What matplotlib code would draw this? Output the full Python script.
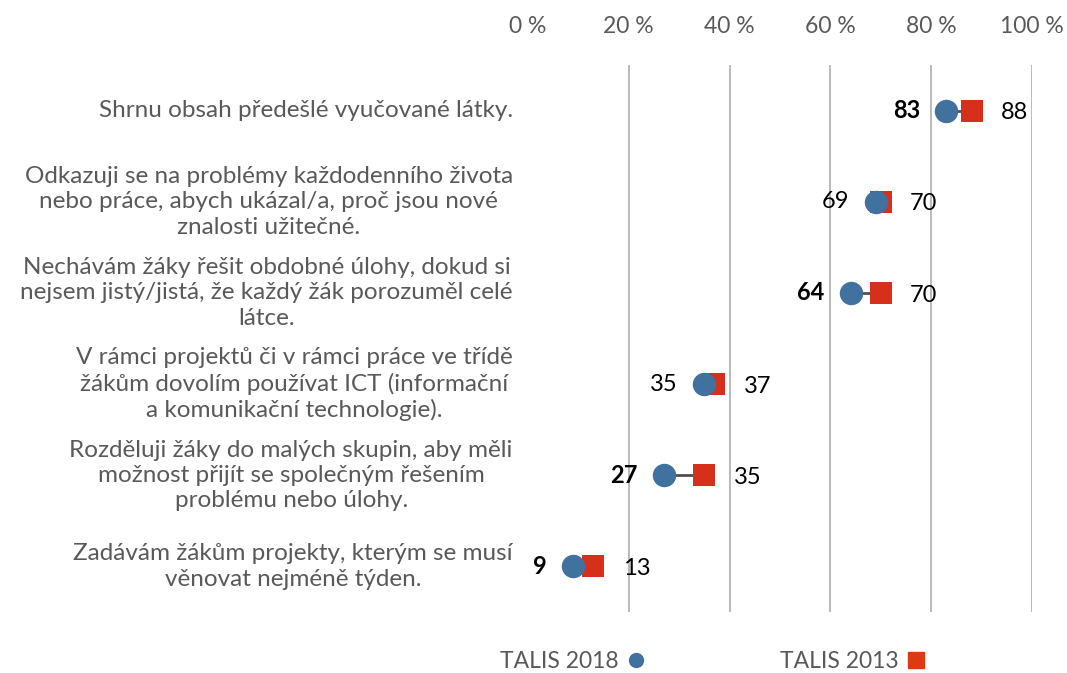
import matplotlib
matplotlib.use("Agg")
import matplotlib.pyplot as plt
from matplotlib.lines import Line2D

# --- data ---
categories = [
    "Shrnu obsah předešlé vyučované látky.",
    "Odkazuji se na problémy každodenního života\nnebo práce, abych ukázal/a, proč jsou nové\nznalosti užitečné.",
    "Nechávám žáky řešit obdobné úlohy, dokud si\nnejsem jistý/jistá, že každý žák porozuměl celé\nlátce.",
    "V rámci projektů či v rámci práce ve třídě\nžákům dovolím používat ICT (informační\na komunikační technologie).",
    "Rozděluji žáky do malých skupin, aby měli\nmožnost přijít se společným řešením\nproblému nebo úlohy.",
    "Zadávám žákům projekty, kterým se musí\nvěnovat nejméně týden.",
]
talis_2018 = [83, 69, 64, 35, 27, 9]
talis_2013 = [88, 70, 70, 37, 35, 13]
# bold label = statistically significant change
significant = [True, False, True, False, True, True]
x_ticks = [0, 20, 40, 60, 80, 100]
x_ticklabels = ["0 %", "20 %", "40 %", "60 %", "80 %", "100 %"]

BLUE = "#41719F"
RED = "#D6301D"
GRAY_TXT = "#595959"
GRID = "#B4B4B4"

plt.rcParams["font.family"] = ["Lato", "DejaVu Sans"]

fig = plt.figure(figsize=(10.67, 6.73), dpi=100)
ax = fig.add_axes([0.4948, 0.0906, 0.9672 - 0.4948, 0.9034 - 0.0906])

ypos = list(range(len(categories)))

for y, a, b in zip(ypos, talis_2018, talis_2013):
    ax.plot([a, b], [y, y], color="#505050", lw=2, zorder=2)
ax.scatter(talis_2013, ypos, marker="s", s=255, color=RED, zorder=3, linewidths=0)
ax.scatter(talis_2018, ypos, marker="o", s=285, color=BLUE, zorder=4, linewidths=0)

for y, a, b, sig in zip(ypos, talis_2018, talis_2013, significant):
    ax.annotate(str(a), (a, y), xytext=(-19, 0), textcoords="offset points",
                ha="right", va="center", fontsize=17,
                fontweight="bold" if sig else "normal", color="black")
    ax.annotate(str(b), (b, y), xytext=(21, -1.5), textcoords="offset points",
                ha="left", va="center", fontsize=17, color="black")

# category labels on the left
for y, cat in zip(ypos, categories):
    ax.text(-0.03, y, cat, transform=ax.get_yaxis_transform(),
            ha="right", va="center", multialignment="center",
            fontsize=17.5, color=GRAY_TXT, linespacing=1.25)

ax.set_xlim(0, 100)
ax.set_ylim(len(categories) - 0.5, -0.5)
ax.set_yticks([])
ax.xaxis.tick_top()
ax.set_xticks(x_ticks)
ax.set_xticklabels(x_ticklabels, fontsize=16.5, color=GRAY_TXT)
ax.tick_params(axis="x", length=0, pad=20)
for t in x_ticks[1:]:
    ax.axvline(t, color=GRID, lw=1.3, zorder=1)
for s in ax.spines.values():
    s.set_visible(False)

handles = [
    Line2D([], [], marker="o", ls="none", color=BLUE, markersize=10, label="TALIS 2018"),
    Line2D([], [], marker="s", ls="none", color="#DD3A12", markersize=11, label="TALIS 2013"),
]
leg = fig.legend(handles=handles, loc="center left", bbox_to_anchor=(0.449, 0.017),
                 ncol=2, markerfirst=False, frameon=False, fontsize=16.5,
                 handlelength=0.7, handletextpad=0.4, columnspacing=5.95)
for t in leg.get_texts():
    t.set_color(GRAY_TXT)

fig.savefig("out.png", dpi=100)
